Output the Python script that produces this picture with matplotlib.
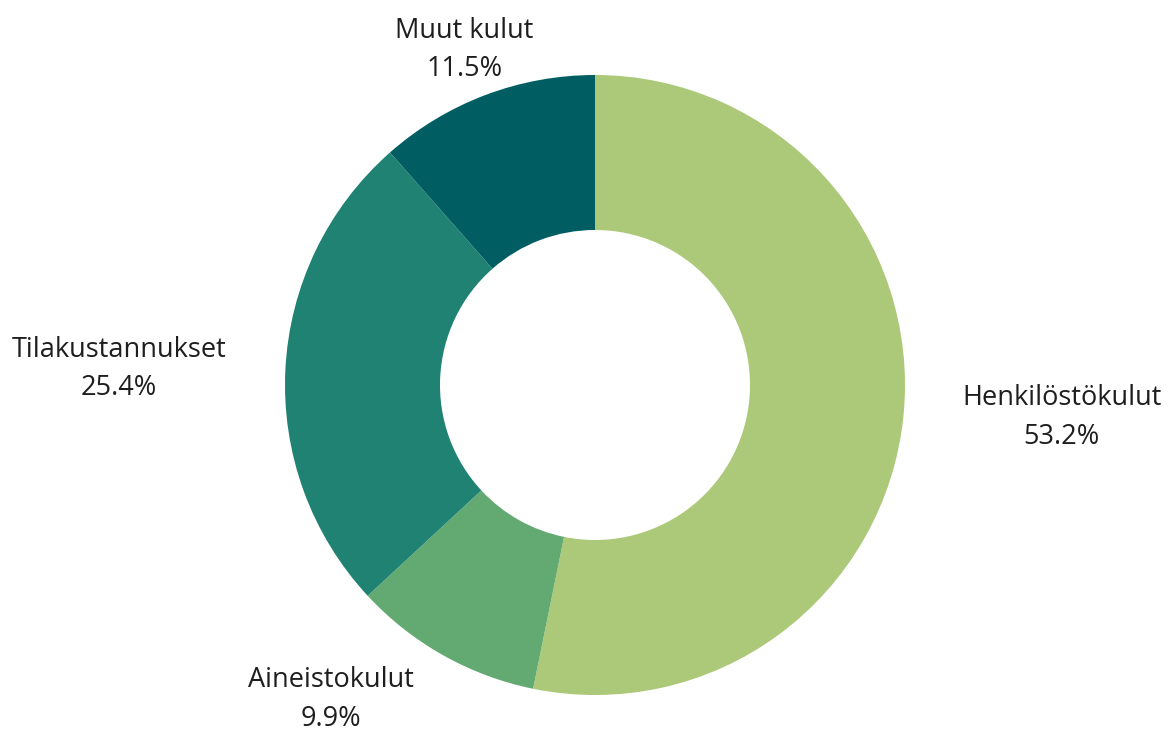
import numpy as np
import matplotlib.pyplot as plt

plt.rcParams['font.family'] = ['Open Sans', 'DejaVu Sans']

labels = ['Henkilöstökulut', 'Aineistokulut', 'Tilakustannukset', 'Muut kulut']
shares = [53.2, 9.9, 25.4, 11.5]
colors = ['#abc978', '#63a972', '#1f8272', '#005e63']


def main():
    fig = plt.figure(figsize=(11.72, 7.40), dpi=100)
    # axes sized so the pie radius 1 = 310 px, centred at (595, 385)
    ax = fig.add_axes([285 / 1172, 45 / 740, 620 / 1172, 620 / 740])

    wedges, _ = ax.pie(shares, colors=colors, startangle=90, counterclock=False,
                       radius=1.0, wedgeprops=dict(width=0.5, linewidth=0))

    for w, lab, val in zip(wedges, labels, shares):
        ang = np.deg2rad((w.theta1 + w.theta2) / 2)
        c, s = np.cos(ang), np.sin(ang)
        x, y = 1.19 * c, 1.04 * s
        if abs(c) < 0.4:
            ha = 'center'
        else:
            ha = 'left' if c > 0 else 'right'
        if s > 0.5:
            va = 'bottom'
        elif s < -0.5:
            va = 'top'
        else:
            va = 'center'
        ax.text(x, y, f'{lab}\n{val:.1f}%', ha=ha, va=va, multialignment='center',
                fontsize=19.5, color='#1e1e1e', linespacing=1.5, clip_on=False)

    ax.set_xlim(-1, 1)
    ax.set_ylim(-1, 1)
    ax.set_aspect('equal')
    ax.axis('off')

    fig.savefig('out.png', dpi=100, facecolor='white')


if __name__ == "__main__":
    main()
